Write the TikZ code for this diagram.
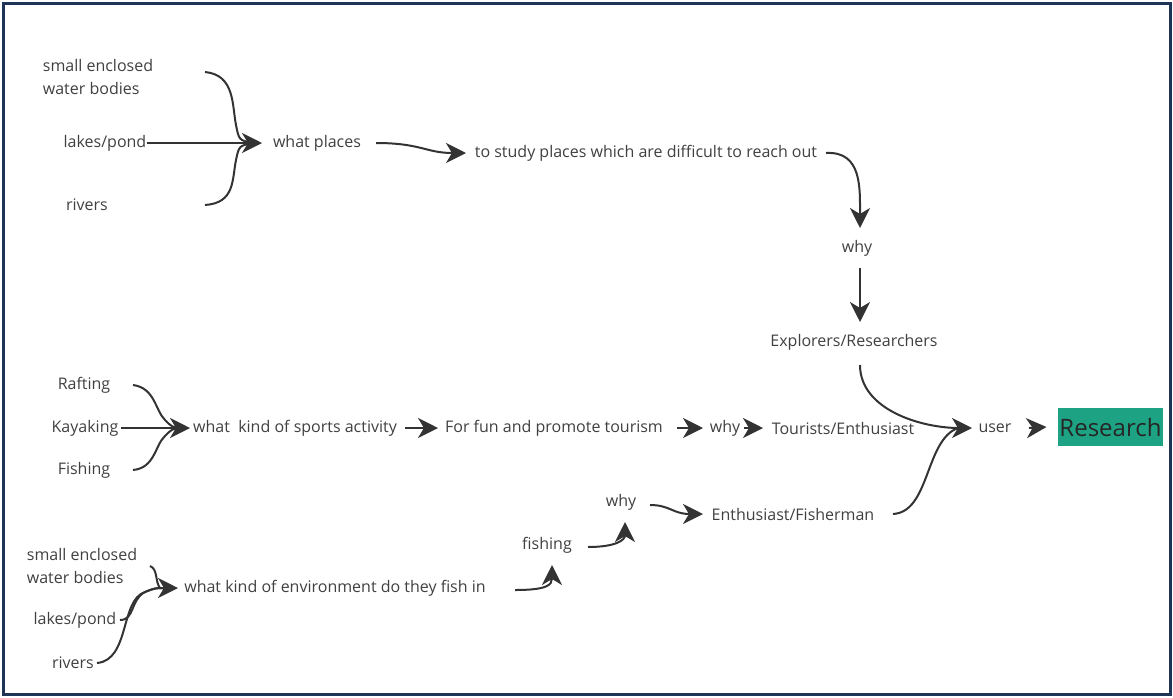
\documentclass[tikz,border=0pt]{standalone}
\usepackage{fontspec}
\setmainfont{Open Sans}
\usetikzlibrary{arrows.meta}
\definecolor{frame}{HTML}{1E3558}
\definecolor{txt}{HTML}{404040}
\definecolor{ln}{HTML}{333333}
\definecolor{rgreen}{HTML}{1DA383}
\begin{document}
\begin{tikzpicture}[x=1pt,y=-1pt,
  lbl/.style={inner sep=0pt, text=txt, font=\fontsize{16}{22.5}\selectfont},
  conn/.style={draw=ln, line width=2pt},
  arr/.style={conn, -{Stealth[length=20pt,width=20pt,inset=6pt]}}]
\useasboundingbox (0,0) rectangle (1173,697);
\draw[frame, line width=3pt] (3,3) rectangle (1170,694);
% nodes
\node[lbl, align=left] (se1) at (98,77) {small enclosed\\water bodies};
\node[lbl] (lp1) at (105,143) {lakes/pond};
\node[lbl] (rv1) at (87,205) {rivers};
\node[lbl] (wp) at (317,143) {what places};
\node[lbl] (study) at (646,153) {to study places which are difficult to reach out};
\node[lbl] (why1) at (857,248) {why};
\node[lbl] (expl) at (854,342) {Explorers/Researchers};
\node[lbl] (raft) at (84,385) {Rafting};
\node[lbl] (kay) at (85,428) {Kayaking};
\node[lbl] (fish) at (84,470) {Fishing};
\node[lbl] (sports) at (295,428) {what\ \ kind of sports activity};
\node[lbl] (fun) at (554,428) {For fun and promote tourism};
\node[lbl] (why2) at (725,428) {why};
\node[lbl] (tour) at (843,428) {Tourists/Enthusiast};
\node[lbl] (user) at (995,428) {user};
\node[fill=rgreen, minimum width=105pt, minimum height=38pt, inner sep=0pt,
      text=black!85, font=\fontsize{24}{28}\selectfont] (res) at (1110.5,427) {Research};
\node[lbl] (why3) at (621,502) {why};
\node[lbl] (enth) at (793,514) {Enthusiast/Fisherman};
\node[lbl] (fishing) at (547,545) {fishing};
\node[lbl, align=left] (se2) at (82,566) {small enclosed\\water bodies};
\node[lbl] (env) at (335,588) {what kind of environment do they fish in};
\node[lbl] (lp2) at (75,620) {lakes/pond};
\node[lbl] (rv2) at (73,663) {rivers};
% connectors - top group
\draw[conn] ([shift={(107,-5)}]se1.center) .. controls (235,75) and (232,105) .. (236,125) .. controls (239,140) .. (252,143);
\draw[arr] (lp1.east) -- ([shift={(-55,0)}]wp.center);
\draw[conn] ([shift={(118,0)}]rv1.center) .. controls (235,203) and (232,180) .. (236,160) .. controls (239,146) .. (252,143);
\draw[arr] ([shift={(59,0)}]wp.center) .. controls +(45,0) and +(-40,0) .. ([shift={(-180,0)}]study.center);
\draw[arr] ([shift={(180,0)}]study.center) .. controls +(36,-2) and +(0,-40) .. ([shift={(3,-20)}]why1.center);
\draw[arr] ([shift={(3,20)}]why1.center) -- ([shift={(6,-20)}]expl.center);
\draw[arr] ([shift={(6,23)}]expl.center) .. controls +(0,45) and +(-50,0) .. ([shift={(-23,0)}]user.center);
\draw[conn] ([shift={(100,0)}]enth.center) .. controls +(37,-2) and (925,440) .. (958,428);
% middle group
\draw[conn] ([shift={(49,0)}]raft.center) .. controls +(22,3) and (155,410) .. (165,420) .. controls (172,427) .. (180,428);
\draw[arr] ([shift={(36,0)}]kay.center) -- ([shift={(-105,0)}]sports.center);
\draw[conn] ([shift={(49,0)}]fish.center) .. controls +(22,-2) and (155,445) .. (165,436) .. controls (172,429) .. (180,428);
\draw[arr] ([shift={(110,0)}]sports.center) -- ([shift={(-116,0)}]fun.center);
\draw[arr] ([shift={(123,0)}]fun.center) -- ([shift={(-22,0)}]why2.center);
\draw[arr] ([shift={(19,0)}]why2.center) -- ([shift={(-80,0)}]tour.center);
\draw[arr] ([shift={(34,0)}]user.center) -- ([shift={(-64,0)}]res.center);
% bottom group
\draw[conn] ([shift={(68,0)}]se2.center) .. controls (158,569) and (155,582) .. (160,588) -- (170,588);
\draw[conn] ([shift={(45,0)}]lp2.center) .. controls (135,620) and (130,600) .. (145,592) .. controls (155,588) .. (170,588);
\draw[arr] ([shift={(24,0)}]rv2.center) .. controls (130,660) and (120,600) .. (145,592) .. controls (155,588) .. ([shift={(-157,0)}]env.center);
\draw[arr] ([shift={(180,2)}]env.center) .. controls +(32,0) and +(0,20) .. ([shift={(5,20)}]fishing.center);
\draw[arr] ([shift={(41,2)}]fishing.center) .. controls +(28,0) and +(0,18) .. ([shift={(4,20)}]why3.center);
\draw[arr] ([shift={(29,3)}]why3.center) .. controls +(20,0) and +(-30,0) .. ([shift={(-90,0)}]enth.center);
\end{tikzpicture}
\end{document}
